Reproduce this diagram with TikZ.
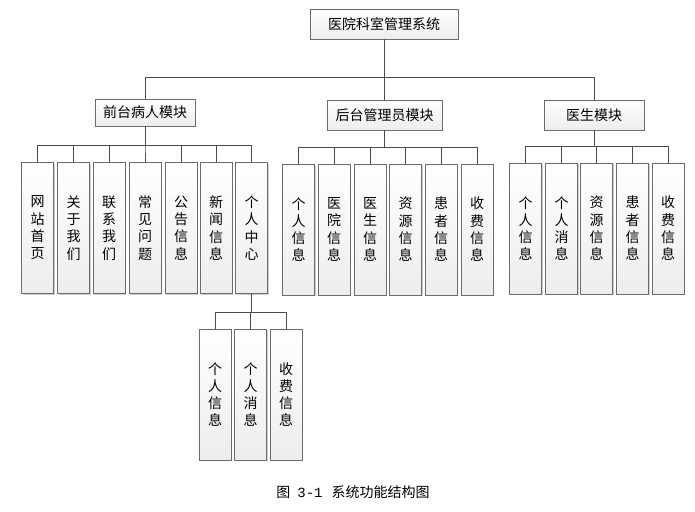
\documentclass[tikz,border=0pt]{standalone}
\usepackage{fontspec}
\setmainfont{Noto Sans CJK SC}
\newfontfamily\monof{Liberation Mono}
\usetikzlibrary{shadows}
\tikzset{
  box/.style={draw=gray!85!black, line width=0.8pt, top color=white, bottom color=gray!14,
    drop shadow={shadow xshift=1.3pt, shadow yshift=-1.3pt, fill=gray!70, opacity=0.55},
    inner sep=0pt, font=\fontsize{14}{16}\selectfont},
  hbox/.style={box},
  vbox/.style={box, minimum width=32pt, minimum height=131pt, align=center,
    font=\fontsize{14}{17.3}\selectfont},
  link/.style={draw=black!70, line width=0.9pt},
}
\begin{document}
\begin{tikzpicture}[x=1pt, y=-1pt]
\useasboundingbox (0,0) rectangle (695,511);
% top
\node[hbox, minimum width=148pt, minimum height=30pt] (top) at (384,24) {医院科室管理系统};
% modules
\node[hbox, minimum width=100pt, minimum height=27pt] (m1) at (145,112.5) {前台病人模块};
\node[hbox, minimum width=115pt, minimum height=30pt] (m2) at (384.5,115) {后台管理员模块};
\node[hbox, minimum width=100pt, minimum height=30pt] (m3) at (594,115) {医生模块};
% row 1
\node[vbox] (a1) at (37.5,228) {网\\站\\首\\页};
\node[vbox] (a2) at (73.5,228) {关\\于\\我\\们};
\node[vbox] (a3) at (109,228) {联\\系\\我\\们};
\node[vbox] (a4) at (145,228) {常\\见\\问\\题};
\node[vbox] (a5) at (181,228) {公\\告\\信\\息};
\node[vbox] (a6) at (216,228) {新\\闻\\信\\息};
\node[vbox] (a7) at (251.5,228) {个\\人\\中\\心};
% row 2
\node[vbox] (b1) at (298.5,229.5) {个\\人\\信\\息};
\node[vbox] (b2) at (334,229.5) {医\\院\\信\\息};
\node[vbox] (b3) at (370,229.5) {医\\生\\信\\息};
\node[vbox] (b4) at (405.5,229.5) {资\\源\\信\\息};
\node[vbox] (b5) at (441,229.5) {患\\者\\信\\息};
\node[vbox] (b6) at (477,229.5) {收\\费\\信\\息};
% row 3
\node[vbox] (c1) at (525.5,228.5) {个\\人\\信\\息};
\node[vbox] (c2) at (561.5,228.5) {个\\人\\消\\息};
\node[vbox] (c3) at (596.5,228.5) {资\\源\\信\\息};
\node[vbox] (c4) at (632.5,228.5) {患\\者\\信\\息};
\node[vbox] (c5) at (668,228.5) {收\\费\\信\\息};
% sub row
\node[vbox] (d1) at (215,394.5) {个\\人\\信\\息};
\node[vbox] (d2) at (250.5,394.5) {个\\人\\消\\息};
\node[vbox] (d3) at (286,394.5) {收\\费\\信\\息};
% bus coordinates
\coordinate (bus0) at (0,77);
\coordinate (bus1) at (0,145);
\coordinate (bus2) at (0,147);
\coordinate (bus3) at (0,146);
\coordinate (bus4) at (0,312);
% connectors
\foreach \m in {m1,m2,m3} \draw[link] (top.south) |- (bus0 -| \m.north) -- (\m.north);
\foreach \c in {a1,a2,a3,a4,a5,a6,a7} \draw[link] (m1.south) |- (bus1 -| \c.north) -- (\c.north);
\foreach \c in {b1,b2,b3,b4,b5,b6} \draw[link] (m2.south) |- (bus2 -| \c.north) -- (\c.north);
\foreach \c in {c1,c2,c3,c4,c5} \draw[link] (m3.south) |- (bus3 -| \c.north) -- (\c.north);
\foreach \c in {d1,d2,d3} \draw[link] (a7.south) |- (bus4 -| \c.north) -- (\c.north);
% caption
\node[font=\fontsize{14}{16}\selectfont] (cap) at (353,492) {图\hspace{7pt}{\monof 3-1}\hspace{9pt}系统功能结构图};
\end{tikzpicture}
\end{document}
